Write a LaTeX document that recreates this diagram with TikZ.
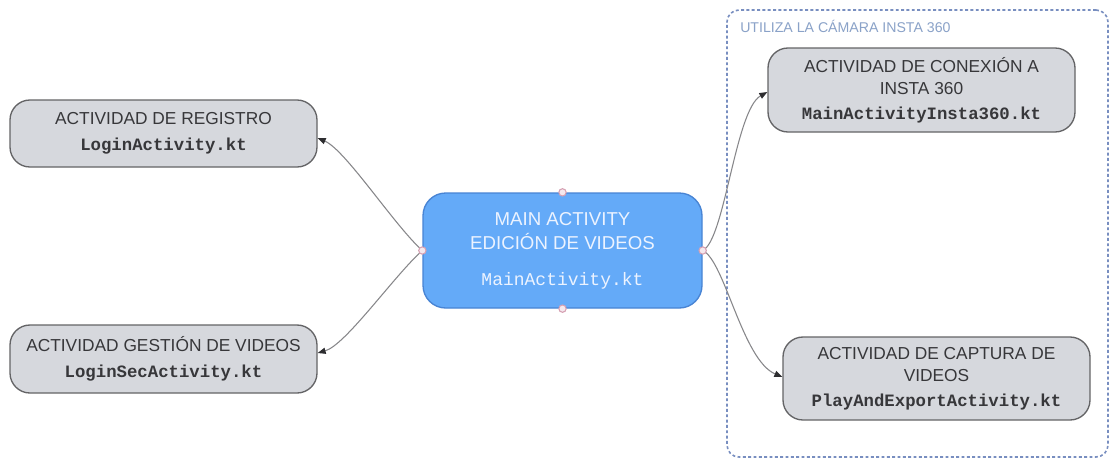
\documentclass[tikz,border=0pt]{standalone}
\usepackage{fontspec}
\setmainfont{Liberation Sans}
\setmonofont{Liberation Mono}
\usetikzlibrary{arrows.meta,calc}
\definecolor{mainfill}{RGB}{100,170,248}
\definecolor{mainborder}{RGB}{72,132,212}
\definecolor{maintext}{RGB}{236,243,255}
\definecolor{grayfill}{RGB}{214,216,221}
\definecolor{grayborder}{RGB}{100,100,102}
\definecolor{darktext}{RGB}{55,55,58}
\definecolor{groupline}{RGB}{120,142,192}
\definecolor{grouptext}{RGB}{138,162,200}
\definecolor{connline}{RGB}{135,135,138}
\definecolor{tipcol}{RGB}{45,45,48}
\definecolor{dotborder}{RGB}{214,160,178}
\definecolor{dotfill}{RGB}{244,232,238}
\newcommand\ktfile[1]{{\ttfamily\bfseries\fontsize{13}{16}\selectfont #1}}
\newcommand\ktmain[1]{{\ttfamily\fontsize{13.5}{16}\selectfont #1}}
\begin{document}
\begin{tikzpicture}[x=0.75pt,y=-0.75pt,
  graybox/.style={draw=grayborder, fill=grayfill, line width=1pt, rounded corners=15pt,
    minimum width=230.25pt, align=center, text=darktext, inner sep=0pt,
    font=\fontsize{13}{16.5}\selectfont},
  mainbox/.style={draw=mainborder, fill=mainfill, line width=1pt, rounded corners=17pt,
    minimum width=209.25pt, minimum height=86.25pt, align=center, text=maintext, inner sep=0pt,
    font=\fontsize{14}{18}\selectfont},
  groupbox/.style={draw=groupline, line width=1.2pt, dash pattern=on 2.2pt off 1.8pt,
    rounded corners=9pt, minimum width=285.75pt, minimum height=335.25pt, inner sep=0pt},
  conn/.style={draw=connline, line width=0.8pt,
    -{Triangle[length=6pt,width=4.6pt,color=tipcol,fill=tipcol]}},
  dot/.style={circle, draw=dotborder, fill=dotfill, line width=0.8pt, inner sep=0pt, minimum size=5.5pt}
]
\useasboundingbox (0,0) rectangle (1112,464);
\fill[white] (0,0) rectangle (1112,464);

% group
\node[groupbox] (grp) at (917.5,233.5) {};
\node[anchor=base west, text=grouptext, inner sep=0pt, font=\fontsize{10.6}{12}\selectfont]
  (grplabel) at (740,32) {UTILIZA LA CÁMARA INSTA 360};

% boxes
\node[graybox, minimum height=50.25pt] (reg) at (163.5,133.5)
  {ACTIVIDAD DE REGISTRO\\[3pt]\ktfile{LoginActivity.kt}};
\node[graybox, minimum height=51pt] (ges) at (163.5,359)
  {ACTIVIDAD GESTIÓN DE VIDEOS\\[3pt]\ktfile{LoginSecActivity.kt}};
\node[graybox, minimum height=63pt] (con) at (921.5,90)
  {ACTIVIDAD DE CONEXIÓN A\\INSTA 360\\[2.5pt]\ktfile{MainActivityInsta360.kt}};
\node[graybox, minimum height=62.25pt] (cap) at (936.5,378.5)
  {ACTIVIDAD DE CAPTURA DE\\VIDEOS\\[2.5pt]\ktfile{PlayAndExportActivity.kt}};
\node[mainbox] (main) at (562.5,250.5)
  {MAIN ACTIVITY\\EDICIÓN DE VIDEOS\\[9pt]\ktmain{MainActivity.kt}};

% connectors
\draw[conn] (main.west) .. controls +(-28,-25) and +(28,12) .. ($(reg.east)+(0,4.5)$);
\draw[conn] (main.west) .. controls +(-28,25) and +(28,-8) .. ($(ges.east)+(0,-6)$);
\draw[conn] (main.east) .. controls +(22,-10) and +(-32,18) .. ($(con.west)+(0,2)$);
\draw[conn] (main.east) .. controls +(22,10) and +(-40,-17) .. ($(cap.west)+(0,-1.5)$);

% connection dots
\node[dot] (mt) at (main.north) {};
\node[dot] (mb) at (main.south) {};
\node[dot] (ml) at (main.west) {};
\node[dot] (mr) at (main.east) {};
\end{tikzpicture}
\end{document}
